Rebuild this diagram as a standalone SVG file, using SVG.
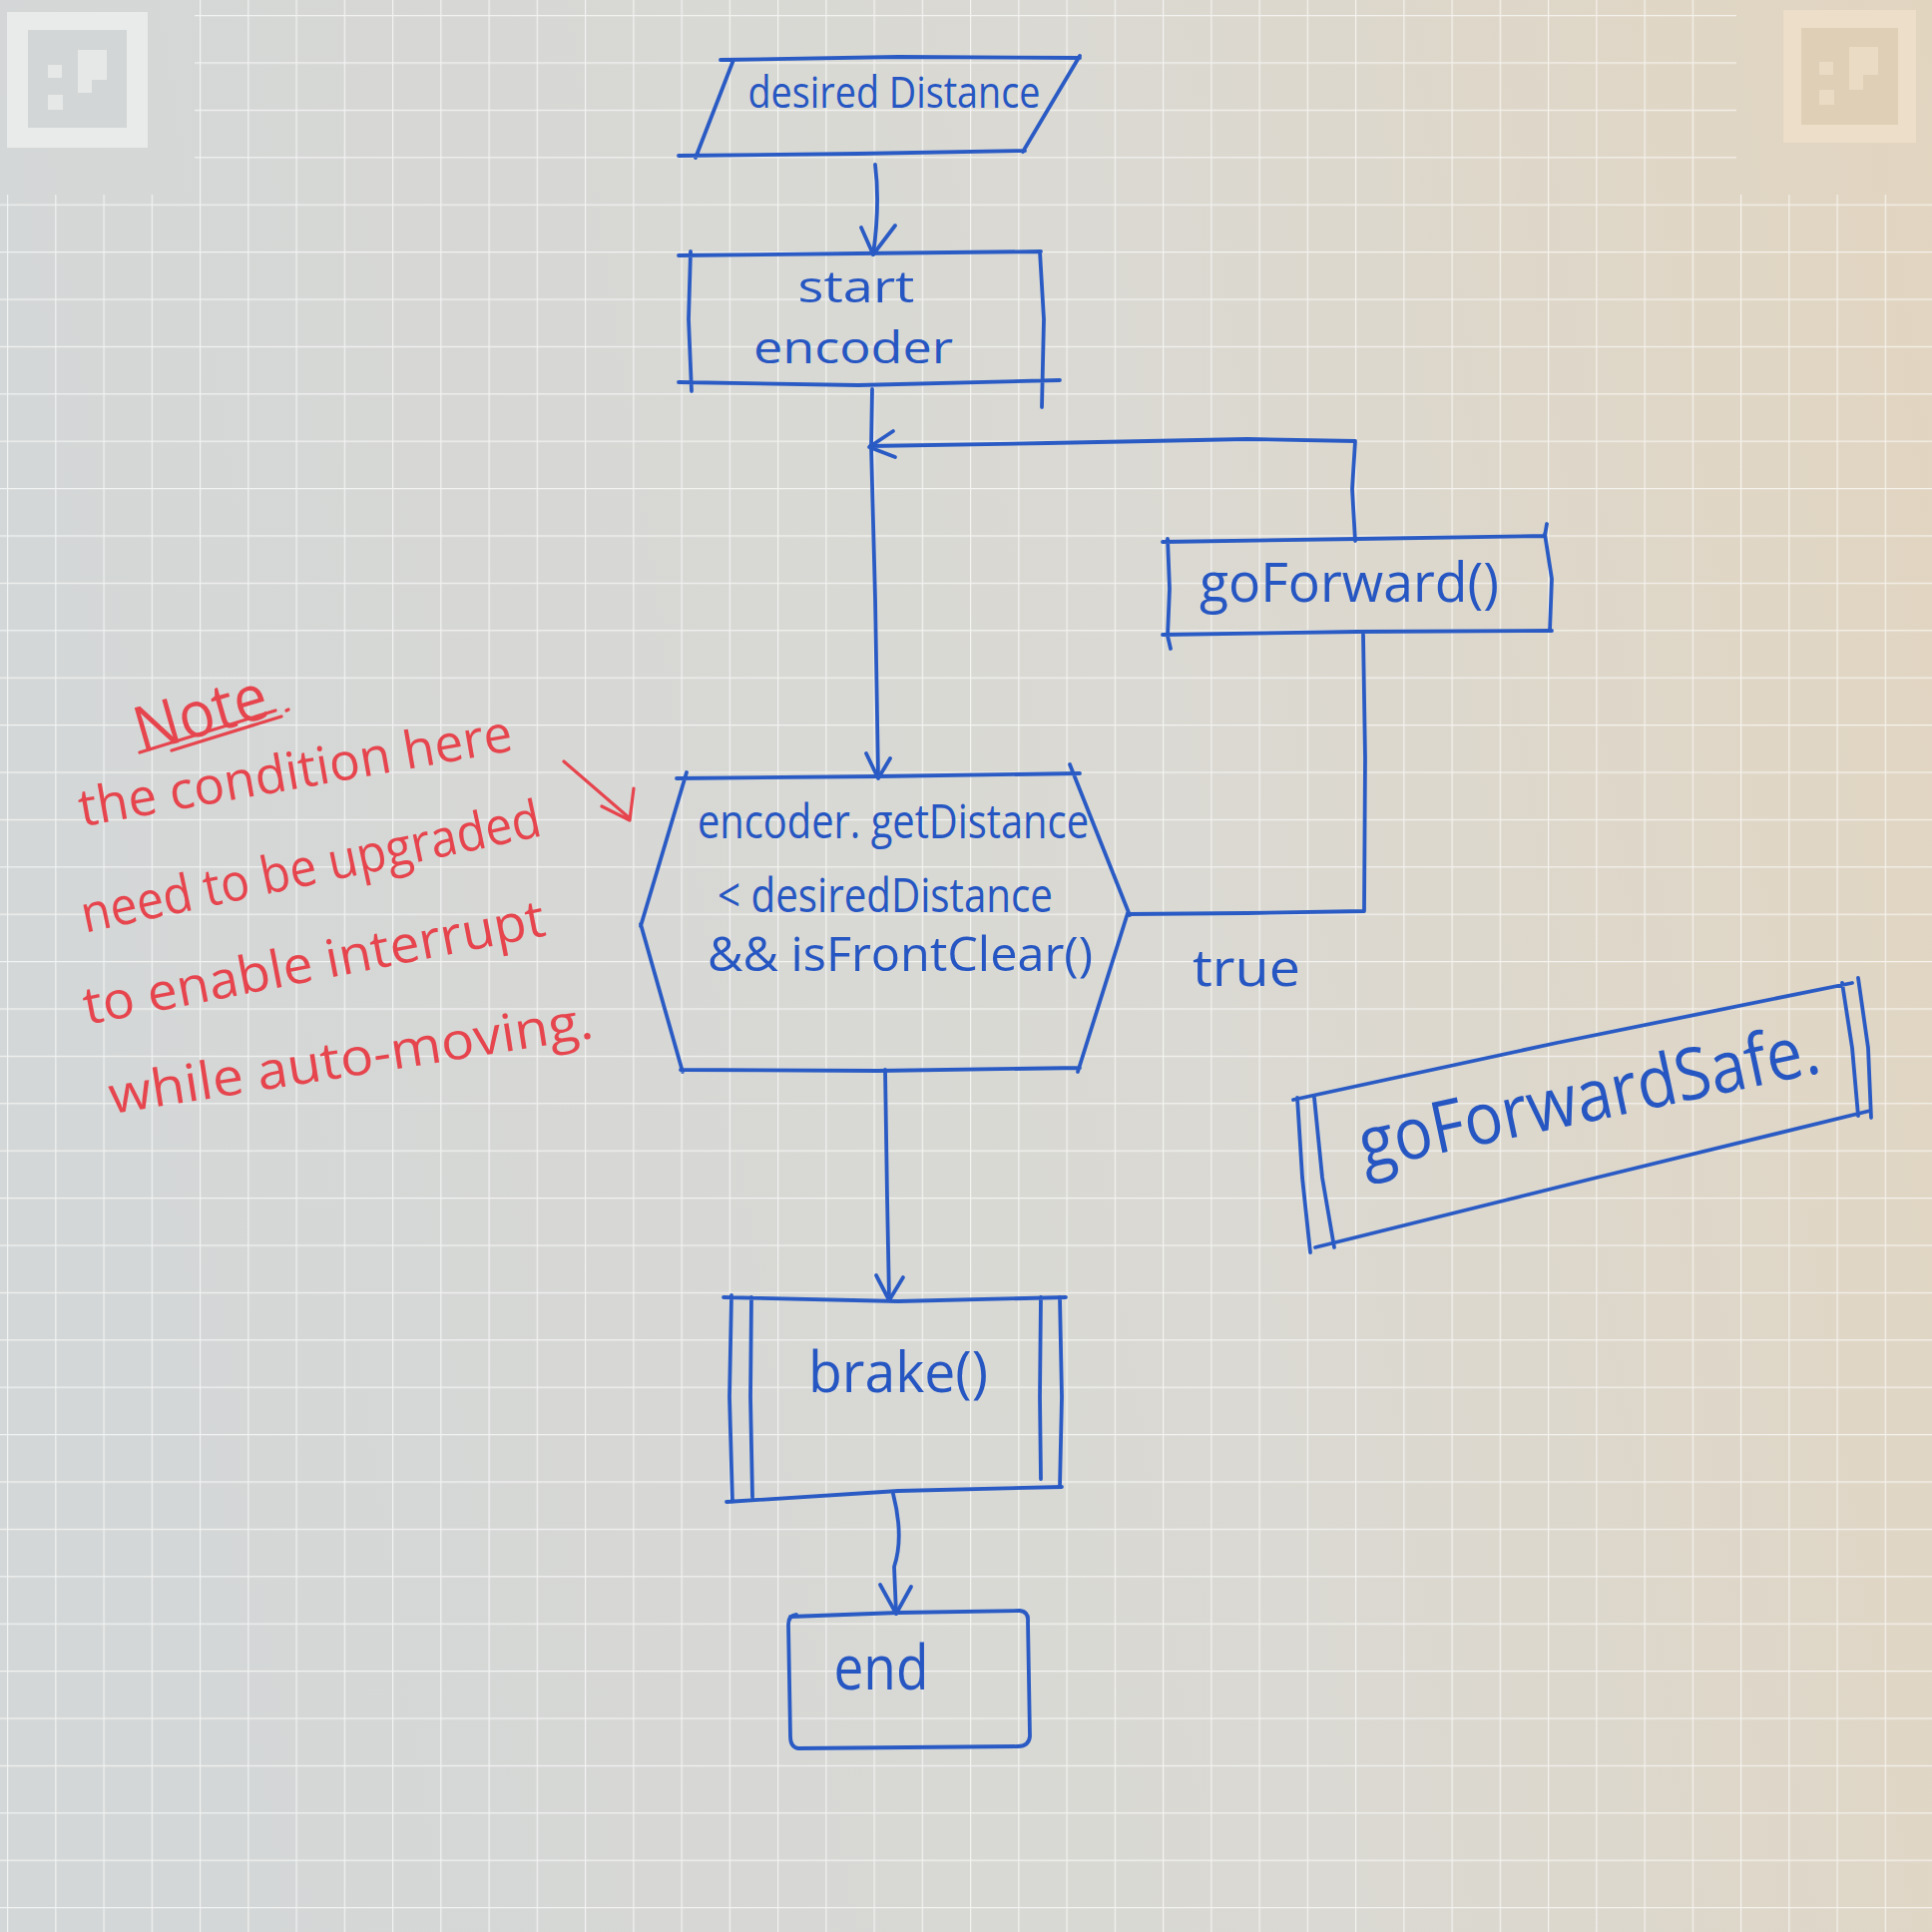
<svg xmlns="http://www.w3.org/2000/svg" width="1936" height="1936" viewBox="0 0 1936 1936">
<defs>
<linearGradient id="paper" x1="0" y1="0.15" x2="1" y2="0">
<stop offset="0" stop-color="#d4d7d7"/>
<stop offset="0.55" stop-color="#dad9d3"/>
<stop offset="1" stop-color="#e2d5c0"/>
</linearGradient>
<pattern id="grid" patternUnits="userSpaceOnUse" x="7" y="15" width="48.25" height="47.4">
<path d="M0,0 L48.25,0 M0,0 L0,47.4" fill="none" stroke="#ffffff" stroke-opacity="0.68" stroke-width="2.4"/>
</pattern>
<style>
.ink{fill:none;stroke:#2a5bc4;stroke-width:3.8;stroke-linecap:round;stroke-linejoin:round}
.red{fill:none;stroke:#e6454e;stroke-width:3.2;stroke-linecap:round;stroke-linejoin:round}
.t{font-family:"Open Sans","Liberation Sans",sans-serif;fill:#2656c2;text-anchor:middle}
.rt{font-family:"Open Sans","Liberation Sans",sans-serif;fill:#e6454e;text-anchor:middle}
</style>
</defs>
<rect width="1936" height="1936" fill="url(#paper)"/>
<rect x="0" y="195" width="1936" height="1741" fill="url(#grid)"/>
<rect x="195" y="0" width="1545" height="195" fill="url(#grid)"/>
<g id="marker-left">
<rect x="7" y="12" width="141" height="136" fill="#e9ebea"/>
<rect x="28" y="30" width="99" height="98" fill="#d3d6d6"/>
<rect x="48" y="65" width="14" height="13" fill="#e6e8e7"/>
<path d="M78,50 H107 V80 H92 V93 H78 Z" fill="#e6e8e7"/>
<rect x="48" y="95" width="15" height="15" fill="#e6e8e7"/>
</g>
<g id="marker-right">
<rect x="1787" y="10" width="133" height="133" fill="#ecdec8"/>
<rect x="1805" y="28" width="97" height="97" fill="#dfcfb6"/>
<rect x="1823" y="62" width="14" height="13" fill="#e9dbc4"/>
<path d="M1853,47 H1882 V75 H1867 V90 H1853 Z" fill="#e9dbc4"/>
<rect x="1823" y="90" width="15" height="15" fill="#e9dbc4"/>
</g>

<g id="connectors">
<path class="ink" d="M877,165 Q882,205 875,255"/>
<path class="ink" d="M863,228 L875,255 L897,226"/>
<path class="ink" d="M874,390 L873,447 L877,600 L880,778"/>
<path class="ink" d="M868,755 L880,780 L892,760"/>
<path class="ink" d="M1130,916 L1250,915 L1367,913 L1368,760 L1366,636"/>
<path class="ink" d="M1358,542 L1355,490 L1358,442 L1250,440 L1050,444 L872,447"/>
<path class="ink" d="M895,432 L871,448 L897,458"/>
<path class="ink" d="M887,1072 L889,1200 L891,1302"/>
<path class="ink" d="M878,1278 L891,1303 L905,1280"/>
<path class="ink" d="M895,1497 Q906,1540 896,1570 L898,1617"/>
<path class="ink" d="M882,1588 L898,1617 L913,1590"/>
<text class="t" x="1249" y="988" font-size="52" textLength="108" lengthAdjust="spacingAndGlyphs">true</text>
</g>

<g id="node-input">
<path class="ink" d="M722,60 L900,57 L1082,58 M1082,56 L1025,152 M1027,151 L860,154 L680,156 M735,60 L697,158"/>
<text class="t" x="896" y="108" font-size="44" textLength="293" lengthAdjust="spacingAndGlyphs">desired Distance</text>
</g>

<g id="node-start">
<path class="ink" d="M680,256 L860,254 L1043,252 M692,252 L690,320 L693,392 M680,383 L860,386 L1062,381 M1042,252 L1046,320 L1044,408"/>
<text class="t" x="858" y="303" font-size="44" textLength="117" lengthAdjust="spacingAndGlyphs">start</text>
<text class="t" x="855" y="364" font-size="44" textLength="200" lengthAdjust="spacingAndGlyphs">encoder</text>
</g>

<g id="node-condition">
<path class="ink" d="M678,780 L880,778 L1082,775 M1072,766 L1132,917 M1130,915 L1080,1074 M682,1072 L880,1073 L1082,1070 M642,926 L684,1074 M688,774 L642,928"/>
<text class="t" x="895" y="840" font-size="48" textLength="392" lengthAdjust="spacingAndGlyphs">encoder. getDistance</text>
<text class="t" x="887" y="914" font-size="48" textLength="336" lengthAdjust="spacingAndGlyphs">&lt; desiredDistance</text>
<text class="t" x="902" y="973" font-size="48" textLength="386" lengthAdjust="spacingAndGlyphs">&amp;&amp;  isFrontClear()</text>
</g>

<g id="node-goforward">
<path class="ink" d="M1165,543 L1360,540 L1548,537 L1550,525 M1170,540 L1172,590 L1170,637 L1173,650 M1165,636 L1360,633 L1555,632 M1548,535 L1555,580 L1553,632"/>
<text class="t" x="1352" y="603" font-size="54" textLength="300" lengthAdjust="spacingAndGlyphs">goForward()</text>
</g>

<g id="node-goforwardsafe">
<path class="ink" d="M1296,1102 L1560,1045 L1856,985 M1318,1250 L1600,1180 L1874,1113 M1300,1100 L1305,1180 L1313,1255 M1317,1100 L1325,1180 L1337,1250 M1846,985 L1856,1050 L1862,1118 M1862,980 L1872,1050 L1875,1120"/>
<text class="t" x="1597" y="1123" font-size="72" textLength="470" lengthAdjust="spacingAndGlyphs" transform="rotate(-12 1597 1123)">goForwardSafe.</text>
</g>

<g id="node-brake">
<path class="ink" d="M725,1300 L900,1304 L1068,1300 M733,1298 L731,1400 L734,1505 M753,1300 L752,1400 L754,1500 M1062,1300 L1064,1400 L1062,1490 M1043,1300 L1042,1400 L1043,1482 M728,1505 L900,1494 L1064,1490"/>
<text class="t" x="900" y="1395" font-size="56" textLength="180" lengthAdjust="spacingAndGlyphs">brake()</text>
</g>

<g id="node-end">
<path class="ink" d="M792,1620 L900,1616 L1022,1614 Q1031,1615 1030,1625 L1032,1740 Q1031,1750 1020,1750 L800,1752 Q792,1751 792,1740 L790,1628 Q790,1619 798,1618"/>
<text class="t" x="883" y="1693" font-size="62" textLength="95" lengthAdjust="spacingAndGlyphs">end</text>
</g>

<g id="note">
<text class="rt" x="207" y="736" font-size="64" textLength="136" lengthAdjust="spacingAndGlyphs" transform="rotate(-16 207 736)">Note</text>
<path class="red" d="M140,754 L276,712 M172,752 L282,718 M287,712 L289,711"/>
<text class="rt" x="299" y="790" font-size="52" textLength="440" lengthAdjust="spacingAndGlyphs" transform="rotate(-10 299 790)">the condition here</text>
<text class="rt" x="315" y="886" font-size="52" textLength="470" lengthAdjust="spacingAndGlyphs" transform="rotate(-12 315 886)">need to be upgraded</text>
<text class="rt" x="318" y="982" font-size="52" textLength="470" lengthAdjust="spacingAndGlyphs" transform="rotate(-11 318 982)">to enable interrupt</text>
<text class="rt" x="354" y="1078" font-size="52" textLength="490" lengthAdjust="spacingAndGlyphs" transform="rotate(-9 354 1078)">while auto-moving.</text>
<path class="red" d="M565,763 L631,820 M603,808 L631,822 L635,790"/>
</g>
</svg>
